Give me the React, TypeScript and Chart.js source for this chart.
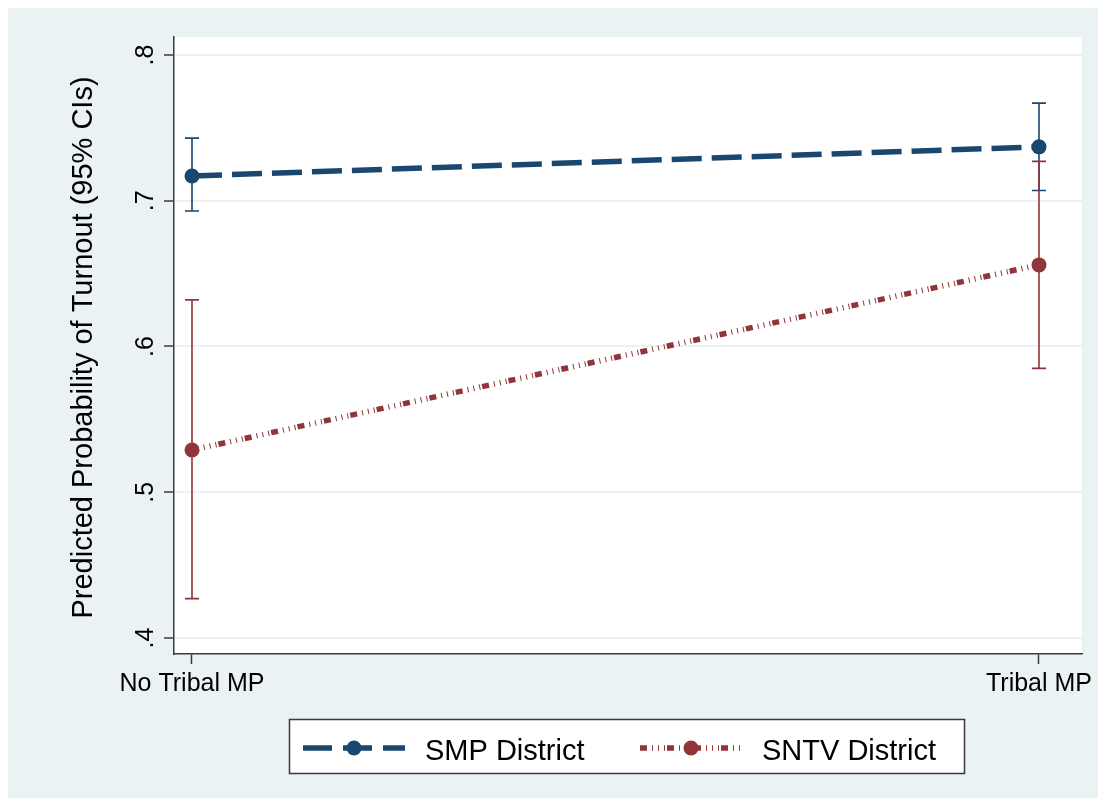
import React, { useEffect, useRef } from 'react';
import { Chart, registerables } from 'chart.js';

Chart.register(...registerables);

// ---- data ----
const categories = ['No Tribal MP', 'Tribal MP'];
const categoryPositions = [0, 1];
const smpEstimate = [0.717, 0.737];
const smpLower = [0.693, 0.707];
const smpUpper = [0.743, 0.767];
const sntvEstimate = [0.529, 0.656];
const sntvLower = [0.427, 0.585];
const sntvUpper = [0.632, 0.727];
const yTickValues = [0.4, 0.5, 0.6, 0.7, 0.8];
const yTickLabels = ['.4', '.5', '.6', '.7', '.8'];
const seriesLabels = ['SMP District', 'SNTV District'];
const yTitle = 'Predicted Probability of Turnout (95% CIs)';

// ---- styles ----
const BG = '#eaf2f3';
const NAVY = '#1a476f';
const MAROON = '#90353b';
const AXIS = '#3a3a3a';
const FONT = '"Liberation Sans", Arial, Helvetica, sans-serif';
const SMP_DASH = [30, 10];
const SNTV_DASH = [7, 5, 1, 5, 1, 5, 1, 2];
const LINE_W = 5.5;
const POINT_R = 7.5;

const decorPlugin = {
  id: 'decor',
  beforeDraw(chart: any) {
    const { ctx, chartArea, width, height } = chart;
    ctx.save();
    ctx.fillStyle = BG;
    ctx.fillRect(0, 0, width, height);
    ctx.fillStyle = '#ffffff';
    ctx.fillRect(chartArea.left, chartArea.top, chartArea.right - chartArea.left, chartArea.bottom - chartArea.top);
    ctx.restore();
  },
  beforeDatasetsDraw(chart: any) {
    const { ctx } = chart;
    const xs = chart.scales.x;
    const ys = chart.scales.y;
    const drawBars = (lower: number[], upper: number[], color: string) => {
      ctx.save();
      ctx.strokeStyle = color;
      ctx.lineWidth = 1.6;
      ctx.setLineDash([]);
      lower.forEach((lo, i) => {
        const px = xs.getPixelForValue(categoryPositions[i]);
        const pLo = ys.getPixelForValue(lo);
        const pHi = ys.getPixelForValue(upper[i]);
        ctx.beginPath();
        ctx.moveTo(px, pLo);
        ctx.lineTo(px, pHi);
        ctx.moveTo(px - 7, pLo);
        ctx.lineTo(px + 7, pLo);
        ctx.moveTo(px - 7, pHi);
        ctx.lineTo(px + 7, pHi);
        ctx.stroke();
      });
      ctx.restore();
    };
    drawBars(smpLower, smpUpper, NAVY);
    drawBars(sntvLower, sntvUpper, MAROON);
  },
  afterDraw(chart: any) {
    const { ctx, chartArea } = chart;
    const ys = chart.scales.y;
    ctx.save();
    ctx.fillStyle = '#000';
    // y tick labels (rotated)
    ctx.font = `25px ${FONT}`;
    ctx.textAlign = 'center';
    ctx.textBaseline = 'alphabetic';
    yTickValues.forEach((v, i) => {
      const py = ys.getPixelForValue(v);
      ctx.save();
      ctx.translate(145, py);
      ctx.rotate(-Math.PI / 2);
      ctx.fillText(yTickLabels[i], 0, 0);
      ctx.restore();
    });
    // y title
    ctx.font = `29px ${FONT}`;
    ctx.save();
    ctx.translate(84, (chartArea.top + chartArea.bottom) / 2 + 2);
    ctx.rotate(-Math.PI / 2);
    ctx.fillText(yTitle, 0, 0);
    ctx.restore();

    // legend
    const bx = 281.5, by = 711.5, bw = 675, bh = 54;
    ctx.fillStyle = '#ffffff';
    ctx.fillRect(bx, by, bw, bh);
    ctx.strokeStyle = AXIS;
    ctx.lineWidth = 1.5;
    ctx.strokeRect(bx, by, bw, bh);

    const sample = (x0: number, color: string, dash: number[]) => {
      const ly = 740;
      ctx.save();
      ctx.strokeStyle = color;
      ctx.lineWidth = LINE_W;
      ctx.lineCap = 'butt';
      ctx.setLineDash(dash);
      ctx.beginPath();
      ctx.moveTo(x0, ly);
      ctx.lineTo(x0 + 102, ly);
      ctx.stroke();
      ctx.setLineDash([]);
      ctx.fillStyle = color;
      ctx.beginPath();
      ctx.arc(x0 + 51, ly, POINT_R, 0, Math.PI * 2);
      ctx.fill();
      ctx.restore();
    };
    sample(295, NAVY, [29, 11]);
    sample(632, MAROON, SNTV_DASH);

    ctx.fillStyle = '#000';
    ctx.font = `29px ${FONT}`;
    ctx.textAlign = 'left';
    ctx.textBaseline = 'alphabetic';
    ctx.fillText(seriesLabels[0], 417, 752);
    ctx.fillText(seriesLabels[1], 754, 752);
    ctx.restore();
  },
};

export default function App() {
  const ref = useRef<HTMLCanvasElement | null>(null);

  useEffect(() => {
    if (!ref.current) return;
    const chart = new Chart(ref.current, {
      type: 'line',
      data: {
        datasets: [
          {
            label: seriesLabels[0],
            data: categoryPositions.map((x, i) => ({ x, y: smpEstimate[i] })),
            borderColor: NAVY,
            backgroundColor: NAVY,
            borderWidth: LINE_W,
            borderDash: SMP_DASH,
            borderCapStyle: 'butt',
            pointRadius: POINT_R,
            pointHoverRadius: POINT_R,
            pointBorderWidth: 0,
            pointBackgroundColor: NAVY,
            fill: false,
            tension: 0,
          },
          {
            label: seriesLabels[1],
            data: categoryPositions.map((x, i) => ({ x, y: sntvEstimate[i] })),
            borderColor: MAROON,
            backgroundColor: MAROON,
            borderWidth: LINE_W,
            borderDash: SNTV_DASH,
            borderCapStyle: 'butt',
            pointRadius: POINT_R,
            pointHoverRadius: POINT_R,
            pointBorderWidth: 0,
            pointBackgroundColor: MAROON,
            fill: false,
            tension: 0,
          },
        ],
      },
      options: {
        animation: false,
        responsive: false,
        events: [],
        layout: { padding: { top: 29, right: 16, bottom: 0, left: 0 } },
        plugins: {
          legend: { display: false },
          tooltip: { enabled: false },
          title: { display: false },
        },
        scales: {
          x: {
            type: 'linear',
            min: -0.02125,
            max: 1.05077,
            afterBuildTicks: (scale: any) => {
              scale.ticks = categoryPositions.map((v) => ({ value: v }));
            },
            afterFit: (scale: any) => {
              scale.height = 144;
            },
            ticks: {
              autoSkip: false,
              maxRotation: 0,
              minRotation: 0,
              padding: 5,
              color: '#000',
              font: { family: FONT, size: 25 },
              callback: (v: any) => {
                const idx = categoryPositions.indexOf(Number(v));
                return idx >= 0 ? categories[idx] : '';
              },
            },
            grid: {
              display: true,
              drawOnChartArea: false,
              drawTicks: true,
              tickLength: 10,
              tickColor: AXIS,
              tickWidth: 1.5,
              color: AXIS,
            },
            border: { display: true, color: AXIS, width: 1.5 },
          },
          y: {
            type: 'linear',
            min: 0.38902,
            max: 0.81235,
            afterBuildTicks: (scale: any) => {
              scale.ticks = yTickValues.map((v) => ({ value: v }));
            },
            afterFit: (scale: any) => {
              scale.width = 166;
            },
            ticks: { display: false },
            grid: {
              display: true,
              drawOnChartArea: true,
              drawTicks: true,
              tickLength: 10,
              color: BG,
              lineWidth: 2,
              tickColor: AXIS,
              tickWidth: 1.5,
            },
            border: { display: true, color: AXIS, width: 1.5 },
          },
        },
      },
      plugins: [decorPlugin],
    } as any);
    return () => chart.destroy();
  }, []);

  return <canvas ref={ref} width={1090} height={790} style={{ display: 'block' }} />;
}
